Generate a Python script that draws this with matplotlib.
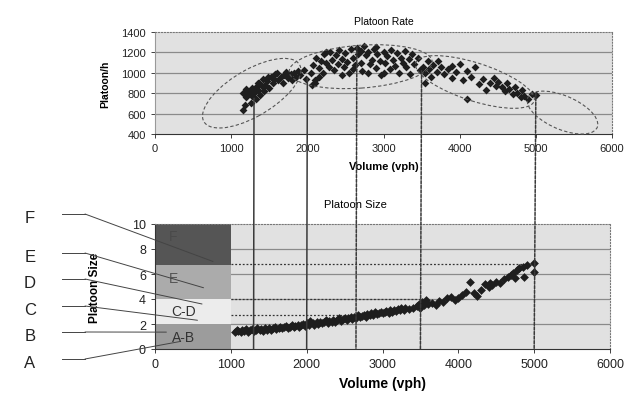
import matplotlib
matplotlib.use("Agg")
import matplotlib.pyplot as plt
from matplotlib.patches import Ellipse, Rectangle, ConnectionPatch
from matplotlib.lines import Line2D

plt.rcParams['font.family'] = ['Liberation Sans', 'DejaVu Sans']

# --- data ---
# top panel: platoon rate (platoon/h) vs volume (vph)
rate_vol = [1150, 1180, 1200, 1220, 1250, 1270, 1280, 1300, 1320, 1350, 1370, 1380, 1400, 1420,
            1450, 1470, 1500, 1520, 1550, 1570, 1600, 1620, 1650, 1680, 1700, 1720, 1750, 1780,
            1800, 1830, 1850, 1880, 1900, 1950, 1980, 1260, 1320, 1150, 1200, 1480, 1560, 1430,
            1350,
            2050, 2080, 2100, 2120, 2150, 2180, 2200, 2220, 2250, 2280, 2300, 2320, 2350, 2380,
            2400, 2420, 2450, 2480, 2500, 2520, 2550, 2570, 2600, 2620, 2650, 2670, 2700, 2720,
            2750, 2770, 2800, 2820, 2850, 2870, 2900, 2920, 2950, 2970, 3000, 3020, 3050, 3080,
            3100, 3120, 3150, 3180, 3200, 3230, 3250, 3280, 3300, 3330, 3350, 3380, 3400, 3450,
            3480, 2150, 2450, 2600, 2800, 3000, 2250, 2700, 2900, 2060, 2100,
            3520, 3550, 3550, 3580, 3600, 3620, 3650, 3700, 3720, 3750, 3800, 3850, 3900, 3950,
            4000, 4050, 4100, 4150, 4200, 4250, 4300, 4350, 4400, 4450, 4480, 4500, 4550, 4600,
            4620, 4650, 4700, 4720, 4750, 4800, 4820, 4850, 4900, 4950, 5000, 4100, 3900]
rate_val = [640, 680, 760, 800, 820, 770, 850, 800, 860, 830, 900, 780, 870, 940,
            880, 920, 850, 960, 900, 990, 1000, 930, 960, 900, 980, 1010, 950, 990,
            930, 1000, 960, 1020, 980, 1030, 940, 700, 740, 800, 840, 960, 940, 820,
            900,
            1000, 1080, 900, 1150, 1050, 1120, 1000, 1180, 1100, 1060, 1200, 1130, 1030, 1170,
            1090, 1220, 1140, 1060, 1190, 1110, 1000, 1230, 1150, 1080, 1240, 1180, 1100, 1020,
            1260, 1170, 1200, 1090, 1130, 1230, 1050, 1180, 1120, 980, 1200, 1100, 1160, 1040,
            1220, 1130, 1070, 1190, 1000, 1150, 1100, 1210, 1060, 1140, 990, 1180, 1090, 1150,
            1030, 960, 980, 1040, 1000, 1000, 1200, 1210, 1250, 880, 930,
            1060, 1000, 900, 1120, 1040, 960, 1080, 1010, 1120, 1060, 990, 1040, 950, 1010,
            1090, 930, 1020, 960, 1060, 890, 940, 830, 900, 950, 870, 910, 860, 820,
            900, 840, 790, 860, 800, 760, 830, 770, 740, 790, 780, 740, 1070]

# bottom panel: platoon size vs volume (vph)
size_vol = [1050, 1080, 1100, 1130, 1150, 1180, 1200, 1230, 1250, 1280, 1300, 1330, 1350, 1380,
            1400, 1430, 1450, 1480, 1500, 1530, 1550, 1580, 1600, 1630, 1650, 1680, 1700, 1730,
            1750, 1780, 1800, 1830, 1850, 1880, 1900, 1930, 1950, 1980, 2000, 2030, 2050, 2080,
            2100, 2130, 2150, 2180, 2200, 2230, 2250, 2280, 2300, 2330, 2350, 2380, 2400, 2430,
            2450, 2480, 2500, 2530, 2550, 2580, 2600, 2630, 2650, 2680, 2700, 2730, 2750, 2780,
            2800, 2830, 2850, 2880, 2900, 2930, 2950, 2980, 3000, 3030, 3050, 3080, 3100, 3130,
            3150, 3180, 3200, 3230, 3250, 3280, 3300, 3350, 3400, 3450, 3480, 3500, 3520, 3550,
            3580, 3600, 3650, 3700, 3750, 3800, 3850, 3900, 3950, 4000, 4050, 4100, 4150, 4200,
            4250, 4300, 4350, 4400, 4420, 4450, 4500, 4550, 4600, 4650, 4700, 4720, 4750, 4780,
            4800, 4850, 4870, 4900, 5000, 5000]
size_val = [1.40, 1.55, 1.45, 1.35, 1.55, 1.45, 1.60, 1.40, 1.50, 1.60, 1.45, 1.55, 1.65, 1.50,
            1.60, 1.45, 1.65, 1.55, 1.70, 1.55, 1.65, 1.75, 1.60, 1.70, 1.80, 1.65, 1.75, 1.85,
            1.70, 1.80, 1.90, 1.75, 1.85, 1.95, 1.80, 1.90, 2.00, 1.85, 2.10, 1.95, 2.25, 2.05,
            1.95, 2.15, 2.00, 2.20, 2.05, 2.15, 2.30, 2.10, 2.25, 2.15, 2.35, 2.20, 2.30, 2.45,
            2.25, 2.40, 2.50, 2.35, 2.45, 2.55, 2.40, 2.60, 2.50, 2.70, 2.55, 2.65, 2.75, 2.60,
            2.80, 2.70, 2.85, 2.75, 2.95, 2.80, 2.90, 3.00, 2.85, 2.95, 3.05, 2.90, 3.10, 3.00,
            3.15, 3.05, 3.20, 3.10, 3.25, 3.15, 3.30, 3.20, 3.30, 3.45, 3.60, 3.25, 3.80, 3.50,
            3.90, 3.60, 3.70, 3.55, 3.85, 3.75, 4.05, 4.20, 3.95, 4.10, 4.30, 4.55, 5.40, 4.45,
            4.25, 4.70, 5.20, 5.00, 5.30, 5.15, 5.40, 5.25, 5.60, 5.80, 5.90, 6.10, 5.70, 6.30,
            6.50, 6.60, 5.80, 6.70, 6.90, 6.20]

# class boundaries (vph) and where each boundary line starts in the top panel
bound_vol = [1300, 2000, 2650, 3500, 5000]
bound_rate = [750, 950, 1260, 1020, 800]
bound_size = [None, None, 2.7, 4.0, 6.8]   # dotted level reached at each boundary

# shaded size classes for volume < 1000
class_names = ['A-B', 'C-D', 'E', 'F']
class_lo = [0, 2, 4, 6.7]
class_hi = [2, 4, 6.7, 10]
class_col = ['#9c9c9c', '#ececec', '#ababab', '#555555']

# regime ellipses in the top panel: centre x, centre y, width, height, angle
ell_cx = [1270, 2700, 4200, 5350]
ell_cy = [800, 1060, 910, 610]
ell_w = [1380, 1880, 1600, 960]
ell_h = [480, 420, 380, 340]
ell_ang = [22, 3, -13, -16]

W, H = 631, 402
fig = plt.figure(figsize=(W / 100, H / 100), dpi=100)
fig.patch.set_facecolor('white')


def px(x, y):
    return x / W, 1 - y / H


bg = '#e1e1e1'
grid_c = '#8a8a8a'

# ---------------- top: platoon rate ----------------
ax1 = fig.add_axes([155 / W, 1 - 135 / H, 457 / W, 102 / H])
ax1.set_facecolor(bg)
ax1.set_xlim(0, 6000)
ax1.set_ylim(400, 1400)
ax1.set_xticks(range(0, 6001, 1000))
ax1.set_yticks(range(400, 1401, 200))
for yv in range(600, 1400, 200):
    ax1.axhline(yv, color=grid_c, lw=0.9, zorder=1)
ax1.scatter(rate_vol, rate_val, marker='D', s=16, color='#1e1e1e', lw=0, zorder=3)
for cx, cy, w, h, a in zip(ell_cx, ell_cy, ell_w, ell_h, ell_ang):
    ax1.add_patch(Ellipse((cx, cy), w, h, angle=a, fill=False, ec='#555555', lw=0.8,
                          ls=(0, (3, 2)), zorder=4, clip_on=False))
ax1.set_title('Platoon Rate', fontsize=7.5, pad=6)
ax1.set_xlabel('Volume (vph)', fontsize=8, fontweight='bold', labelpad=6)
ax1.set_ylabel('Platoon/h', fontsize=7.5, fontweight='bold', labelpad=8)
ax1.tick_params(labelsize=8, length=3, width=0.6, colors='#222222')
for s in ['top', 'right']:
    ax1.spines[s].set_linestyle(':')
    ax1.spines[s].set_color('#777777')
ax1.spines['left'].set_color('#999999')
ax1.spines['bottom'].set_color('#333333')

# ---------------- bottom: platoon size ----------------
ax2 = fig.add_axes([155 / W, 1 - 350 / H, 455 / W, 125 / H])
ax2.set_facecolor(bg)
ax2.set_xlim(0, 6000)
ax2.set_ylim(0, 10)
ax2.set_xticks(range(0, 6001, 1000))
ax2.set_yticks(range(0, 11, 2))
for yv in range(2, 10, 2):
    ax2.axhline(yv, color=grid_c, lw=0.9, zorder=1)
for name, lo, hi, c in zip(class_names, class_lo, class_hi, class_col):
    ax2.add_patch(Rectangle((0, lo), 1000, hi - lo, color=c, zorder=2, lw=0))
ax2.text(380, 1.0, 'A-B', fontsize=10, ha='center', va='center', color='#333333', zorder=3)
ax2.text(380, 3.0, 'C-D', fontsize=10, ha='center', va='center', color='#333333', zorder=3)
ax2.text(240, 5.7, 'E', fontsize=10, ha='center', va='center', color='#555555', zorder=3)
ax2.text(240, 9.0, 'F', fontsize=10, ha='center', va='center', color='#4a4a4a', zorder=3)
for xv, lv in zip(bound_vol, bound_size):
    if lv is not None:
        ax2.hlines(lv, 1000, xv, color='#333333', lw=0.9, ls=(0, (1.5, 1.5)), zorder=2)
ax2.scatter(size_vol, size_val, marker='D', s=20, color='#1e1e1e', lw=0, zorder=3)
ax2.set_title('Platoon Size', fontsize=8, pad=12, x=0.44)
ax2.set_xlabel('Volume (vph)', fontsize=10, fontweight='bold', labelpad=4)
ax2.set_ylabel('Platoon Size', fontsize=8.5, fontweight='bold', labelpad=22)
ax2.tick_params(labelsize=9, length=3, width=0.6, colors='#222222')
for s in ['top', 'right']:
    ax2.spines[s].set_linestyle(':')
    ax2.spines[s].set_color('#777777')
ax2.spines['left'].set_color('#333333')
ax2.spines['bottom'].set_color('#333333')

# boundary lines running from the rate panel down to the size axis
for i, (xv, rv) in enumerate(zip(bound_vol, bound_rate)):
    ls = '-' if i < 2 else (0, (2, 1))
    con = ConnectionPatch(xyA=(xv, rv), coordsA=ax1.transData,
                          xyB=(xv, 0), coordsB=ax2.transData,
                          color='#3a3a3a', lw=1.1, ls=ls, zorder=5)
    fig.add_artist(con)

# class letters with leader lines on the left
letters = ['F', 'E', 'D', 'C', 'B', 'A']
letter_y = [219, 258, 284, 311, 337, 364]
lead_end = [(765, 7.0), (640, 4.9), (620, 3.6), (560, 2.3), (150, 1.35), (330, 0.6)]
for let, ly, (ex, ey) in zip(letters, letter_y, lead_end):
    fig.text(30 / W, 1 - ly / H, let, fontsize=12, ha='center', va='center', color='#222222')
    con = ConnectionPatch(xyA=px(85, ly - 4), coordsA=fig.transFigure,
                          xyB=(ex, ey), coordsB=ax2.transData,
                          color='#444444', lw=0.7, zorder=6)
    fig.add_artist(con)
    fig.add_artist(Line2D([62 / W, 85 / W], [1 - (ly - 4) / H] * 2,
                          transform=fig.transFigure, color='#444444', lw=0.7))

fig.savefig('out.png', dpi=100)
